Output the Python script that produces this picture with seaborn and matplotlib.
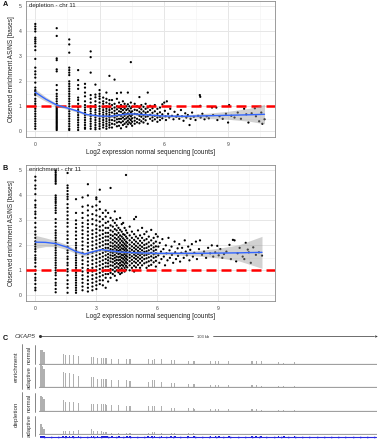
import numpy as np
import pandas as pd
import matplotlib
matplotlib.use("Agg")
import matplotlib.pyplot as plt
import seaborn as sns

sns.set_style("white")
plt.rcParams['font.family'] = ['Liberation Sans', 'DejaVu Sans']

# ---------------- Panel A (depletion) data ----------------
A_col_x = [0, 1, 1.585, 2, 2.32, 2.585, 2.807, 3, 3.17, 3.32, 3.46]
A_col_y = [
    [4.3, 4.2, 4.1, 4.0, 3.75, 3.68, 3.6, 3.52, 3.4, 3.25, 2.9, 2.55, 2.4, 2.28, 2.15, 1.95, 1.75, 1.65, 1.6,
     1.5, 1.45, 1.3, 1.2, 1.1, 1.0, 0.9, 0.8, 0.7, 0.6, 0.5, 0.4, 0.3, 0.2, 0.1],
    [4.13, 3.82, 2.92, 2.85, 2.48, 2.4, 1.85, 1.65, 1.5, 1.4, 1.3, 1.2, 1.1, 1.0, 0.95, 0.9, 0.85, 0.8, 0.75,
     0.7, 0.65, 0.6, 0.55, 0.5, 0.45, 0.4, 0.35, 0.3, 0.25, 0.2, 0.15, 0.1, 0.05],
    [3.68, 3.48, 3.15, 2.55, 2.45, 2.35, 2.25, 2.0, 1.9, 1.8, 1.7, 1.6, 1.5, 1.4, 1.3, 1.2, 1.1, 1.0, 0.9, 0.8,
     0.7, 0.6, 0.5, 0.4, 0.3, 0.2, 0.1, 0.05],
    [2.45, 2.05, 1.85, 1.7, 1.35, 1.25, 1.1, 0.95, 0.85, 0.75, 0.65, 0.55, 0.45, 0.35, 0.25, 0.15, 0.05],
    [1.9, 1.75, 1.55, 1.4, 1.2, 1.05, 0.95, 0.85, 0.75, 0.65, 0.55, 0.45, 0.35, 0.25, 0.15, 0.1],
    [3.2, 2.97, 2.35, 1.45, 1.3, 1.15, 1.0, 0.9, 0.8, 0.7, 0.6, 0.5, 0.4, 0.3, 0.2, 0.1],
    [1.87, 1.47, 1.36, 1.2, 1.05, 0.95, 0.85, 0.75, 0.65, 0.55, 0.45, 0.35, 0.25, 0.15, 0.08],
    [1.65, 1.5, 1.4, 1.3, 1.15, 1.0, 0.9, 0.8, 0.7, 0.6, 0.5, 0.4, 0.3, 0.2, 0.1],
    [1.35, 1.2, 1.1, 0.95, 0.85, 0.75, 0.65, 0.55, 0.45, 0.35, 0.25, 0.15],
    [1.55, 1.3, 1.15, 1.0, 0.9, 0.8, 0.7, 0.6, 0.5, 0.4, 0.3, 0.2, 0.1],
    [2.22, 1.25, 1.1, 0.95, 0.85, 0.75, 0.65, 0.55, 0.45, 0.35, 0.25, 0.15],
]
A_cloud_x = [3.58, 3.58, 3.58, 3.58, 3.58, 3.58, 3.58, 3.58,
             3.7, 3.7, 3.7, 3.7, 3.7, 3.7, 3.7, 3.7,
             3.81, 3.81, 3.81, 3.81, 3.81, 3.81, 3.81, 3.81, 3.81,
             3.91, 3.91, 3.91, 3.91, 3.91, 3.91, 3.91,
             4.0, 4.0, 4.0, 4.0, 4.0, 4.0, 4.0, 4.0,
             4.09, 4.09, 4.09, 4.09, 4.09, 4.09, 4.09,
             4.17, 4.17, 4.17, 4.17, 4.17, 4.17,
             4.25, 4.25, 4.25, 4.25, 4.25, 4.25,
             4.32, 4.32, 4.32, 4.32, 4.32, 4.32, 4.32,
             4.39, 4.39, 4.39, 4.39, 4.39,
             4.46, 4.46, 4.46, 4.46, 4.46, 4.46, 4.46,
             4.52, 4.52, 4.52, 4.52, 4.52, 4.52,
             4.64, 4.64, 4.64, 4.64, 4.64, 4.64,
             4.75, 4.75, 4.75, 4.75, 4.75,
             4.86, 4.86, 4.86, 4.86, 4.86, 4.86,
             4.95, 4.95, 4.95, 4.95, 4.95,
             5.05, 5.05, 5.05, 5.05, 5.05,
             5.15, 5.15, 5.15, 5.15, 5.15,
             5.25, 5.25, 5.25, 5.25, 5.25,
             5.36, 5.36, 5.36, 5.36,
             5.47, 5.47, 5.47, 5.47,
             5.58, 5.58, 5.58, 5.58,
             5.7, 5.7, 5.7, 5.7,
             5.82, 5.82, 5.82, 5.82,
             5.93, 5.93, 5.93,
             6.02, 6.05, 6.08, 6.1, 6.14, 6.2, 6.25, 6.3, 6.38, 6.45, 6.5, 6.58, 6.65, 6.72, 6.8,
             6.85, 6.92, 7.0, 7.05, 7.12, 7.2, 7.25, 7.32, 7.4, 7.48,
             7.6, 7.68, 7.7, 7.7, 7.72, 7.8, 7.9, 8.0, 8.1, 8.25, 8.3, 8.45, 8.5, 8.6, 8.75, 8.9,
             9.0, 9.05, 9.15, 9.3, 9.45, 9.6, 9.75, 9.85, 9.95, 10.1, 10.25, 10.3, 10.45, 10.55,
             10.6, 10.7]
A_cloud_y = [1.25, 1.05, 0.9, 0.75, 0.6, 0.45, 0.3, 0.15,
             1.1, 0.95, 0.82, 0.7, 0.55, 0.42, 0.28, 2.07,
             1.3, 1.0, 0.88, 0.72, 0.6, 0.48, 0.35, 0.2, 1.53,
             1.15, 0.95, 0.8, 0.65, 0.5, 0.38, 0.22,
             1.55, 1.05, 0.9, 0.78, 0.62, 0.5, 0.35, 0.12,
             1.2, 0.98, 0.85, 0.7, 0.55, 0.4, 0.25,
             1.1, 0.92, 0.75, 0.62, 0.48, 0.3,
             1.0, 0.85, 0.68, 0.52, 0.36, 0.18,
             1.55, 1.08, 0.9, 0.72, 0.58, 0.42, 0.28,
             1.0, 0.82, 0.65, 0.5, 0.35,
             2.77, 1.15, 0.92, 0.76, 0.6, 0.45, 0.3,
             0.98, 0.8, 0.66, 0.52, 0.38, 0.22,
             1.1, 0.86, 0.7, 0.55, 0.42, 0.3,
             1.0, 0.84, 0.68, 0.5, 0.36,
             1.37, 0.94, 0.78, 0.62, 0.46, 0.32,
             1.05, 0.88, 0.72, 0.58, 0.4,
             0.98, 0.8, 0.64, 0.5, 0.35,
             1.1, 0.9, 0.74, 0.58, 0.44,
             1.55, 0.95, 0.78, 0.6, 0.3,
             1.02, 0.85, 0.66, 0.5,
             0.92, 0.74, 0.56, 0.42,
             1.05, 0.8, 0.62, 0.48,
             0.9, 0.7, 0.55, 0.38,
             0.95, 0.76, 0.58, 0.45,
             1.08, 0.68, 0.52,
             1.15, 0.82, 0.6, 0.45, 1.2, 0.7, 0.55, 0.9, 0.62, 0.48, 0.78, 0.58, 0.66, 0.5, 0.85,
             0.6, 0.42, 0.72, 0.55, 0.65, 0.25, 0.5, 0.75, 0.58, 0.45,
             0.62, 1.45, 1.38, 1.02, 0.55, 0.7, 0.48, 0.6, 0.52, 0.95, 0.65, 0.95, 0.45, 0.6, 0.5, 0.7,
             0.35, 1.05, 0.62, 0.55, 0.75, 0.5, 0.9, 0.68, 0.35, 0.72, 0.92, 0.6, 0.4, 0.75,
             0.3, 0.48]
A_fit_x = [0, 0.5, 1, 1.585, 2, 2.4, 3, 3.5, 4.0, 4.4, 5.0, 5.5, 6.0, 7.0, 8.0, 9.0, 10.0, 10.7]
A_fit_y = [1.56, 1.28, 1.05, 0.91, 0.80, 0.67, 0.61, 0.60, 0.66, 0.70, 0.67, 0.64, 0.61, 0.60, 0.62, 0.64, 0.66, 0.68]
A_fit_lo = [1.43, 1.19, 0.99, 0.86, 0.75, 0.62, 0.57, 0.56, 0.62, 0.66, 0.63, 0.60, 0.56, 0.54, 0.52, 0.48, 0.40, 0.30]
A_fit_hi = [1.69, 1.37, 1.11, 0.96, 0.85, 0.72, 0.65, 0.64, 0.70, 0.74, 0.71, 0.68, 0.66, 0.66, 0.72, 0.80, 0.92, 1.08]

# ---------------- Panel B (enrichment) data ----------------
B_col_x = [0, 1, 1.585, 2, 2.32, 2.585, 2.807, 3, 3.17, 3.32, 3.46]
B_col_y = [
    [4.75, 4.6, 4.4, 4.27, 4.05, 3.8, 3.62, 3.52, 3.35, 3.25, 3.1, 2.9, 2.72, 2.56, 2.43, 2.3, 2.16, 2.05,
     1.95, 1.85, 1.75, 1.6, 1.5, 1.42, 1.3, 1.15, 1.0, 0.85, 0.7, 0.6, 0.45, 0.3, 0.2],
    [5.0, 4.93, 4.85, 4.78, 4.7, 4.62, 4.55, 4.47, 4.0, 3.92, 3.85, 3.77, 3.7, 3.6, 3.5, 3.4, 3.3, 3.05,
     2.9, 2.75, 2.6, 2.5, 2.4, 2.3, 2.2, 2.1, 2.0, 1.9, 1.8, 1.7, 1.6, 1.5, 1.4, 1.3, 1.2, 1.1, 1.0, 0.9,
     0.8, 0.65, 0.5, 0.4, 0.25, 0.12],
    [4.9, 4.4, 4.3, 4.18, 4.05, 3.95, 3.85, 3.65, 3.5, 3.35, 3.2, 3.05, 2.9, 2.75, 2.55, 2.4, 2.25, 2.1,
     1.95, 1.8, 1.7, 1.55, 1.45, 1.3, 1.2, 1.05, 0.95, 0.8, 0.6, 0.45, 0.3, 0.1],
    [3.85, 3.3, 3.0, 2.85, 2.7, 2.55, 2.4, 2.25, 2.1, 2.0, 1.9, 1.8, 1.7, 1.6, 1.5, 1.4, 1.3, 1.2, 1.1,
     1.0, 0.9, 0.8, 0.7, 0.6, 0.5, 0.4, 0.3, 0.2, 0.1],
    [3.92, 3.55, 3.3, 3.1, 2.9, 2.75, 2.6, 2.45, 2.3, 2.15, 2.0, 1.85, 1.7, 1.55, 1.4, 1.25, 1.1, 0.95,
     0.8, 0.65, 0.5, 0.35, 0.2],
    [4.45, 4.0, 3.6, 3.4, 3.2, 3.0, 2.85, 2.7, 2.55, 2.4, 2.25, 2.1, 1.95, 1.8, 1.65, 1.5, 1.35, 1.2,
     1.05, 0.9, 0.75, 0.6, 0.45, 0.3, 0.15],
    [3.55, 3.25, 3.05, 2.85, 2.6, 2.45, 2.3, 2.15, 2.0, 1.85, 1.7, 1.55, 1.4, 1.25, 1.1, 0.95, 0.8, 0.65,
     0.5, 0.35, 0.2],
    [3.92, 3.85, 3.6, 3.4, 3.2, 3.0, 2.8, 2.65, 2.5, 2.35, 2.2, 2.05, 1.9, 1.75, 1.6, 1.45, 1.3, 1.15,
     1.0, 0.85, 0.7, 0.55, 0.4, 0.25],
    [4.23, 3.75, 3.45, 3.15, 2.95, 2.75, 2.6, 2.4, 2.25, 2.1, 1.95, 1.8, 1.65, 1.5, 1.35, 1.2, 1.05, 0.9,
     0.75, 0.6, 0.45],
    [3.3, 3.05, 2.8, 2.6, 2.45, 2.3, 2.15, 2.0, 1.85, 1.7, 1.55, 1.4, 1.25, 1.1, 0.95, 0.8, 0.6, 0.4],
    [3.4, 3.15, 2.9, 2.7, 2.5, 2.35, 2.2, 2.05, 1.9, 1.75, 1.6, 1.45, 1.3, 1.15, 1.0, 0.85, 0.7, 0.3],
]
B_grid_x = [3.58, 3.7, 3.81, 3.91, 4.0, 4.09, 4.17, 4.25, 4.32, 4.39, 4.46, 4.52, 4.64, 4.75, 4.86,
            4.95, 5.05, 5.15, 5.25, 5.36, 5.47, 5.58, 5.7, 5.82, 5.93]
B_grid_y = [
    [3.3, 2.95, 2.7, 2.5, 2.35, 2.2, 2.05, 1.9, 1.78, 1.65, 1.52, 1.4, 1.28, 1.15, 1.0, 0.85, 0.55],
    [4.3, 3.1, 2.8, 2.6, 2.42, 2.28, 2.12, 1.98, 1.85, 1.72, 1.6, 1.48, 1.35, 1.2, 1.05, 0.9, 0.7],
    [3.0, 2.75, 2.55, 2.38, 2.22, 2.08, 1.95, 1.82, 1.7, 1.58, 1.45, 1.32, 1.18, 1.02, 0.85],
    [3.36, 2.9, 2.65, 2.45, 2.3, 2.15, 2.0, 1.88, 1.75, 1.62, 1.5, 1.38, 1.25, 1.1, 0.95, 0.78],
    [3.05, 2.8, 2.6, 2.42, 2.25, 2.1, 1.95, 1.82, 1.7, 1.55, 1.42, 1.3, 1.15, 1.0, 0.6],
    [2.7, 2.5, 2.33, 2.18, 2.02, 1.9, 1.78, 1.65, 1.52, 1.4, 1.25, 1.1, 0.92],
    [3.1, 2.62, 2.4, 2.25, 2.1, 1.95, 1.82, 1.68, 1.55, 1.42, 1.3, 1.18, 1.02, 0.85],
    [2.85, 2.55, 2.35, 2.18, 2.02, 1.88, 1.75, 1.62, 1.5, 1.36, 1.22, 1.08, 0.9],
    [2.9, 2.45, 2.28, 2.12, 1.98, 1.85, 1.72, 1.6, 1.46, 1.32, 1.18, 1.0],
    [2.7, 2.42, 2.22, 2.06, 1.92, 1.8, 1.66, 1.53, 1.4, 1.26, 1.1, 0.95],
    [4.82, 2.6, 2.35, 2.15, 2.0, 1.86, 1.73, 1.6, 1.47, 1.33, 1.18, 1.02],
    [2.5, 2.28, 2.1, 1.95, 1.8, 1.68, 1.55, 1.42, 1.28, 1.12],
    [2.75, 2.4, 2.2, 2.03, 1.88, 1.75, 1.62, 1.5, 1.36, 1.2, 1.0],
    [2.55, 2.3, 2.12, 1.96, 1.82, 1.7, 1.56, 1.42, 1.28, 1.1],
    [3.05, 2.45, 2.22, 2.05, 1.9, 1.76, 1.63, 1.5, 1.35, 1.18, 0.95],
    [3.14, 2.35, 2.15, 1.98, 1.84, 1.7, 1.58, 1.45, 1.3, 1.12],
    [2.6, 2.28, 2.08, 1.92, 1.78, 1.65, 1.52, 1.38, 1.22],
    [2.4, 2.18, 2.0, 1.86, 1.72, 1.6, 1.46, 1.3, 1.1],
    [2.7, 2.3, 2.1, 1.94, 1.8, 1.66, 1.52, 1.38, 1.2],
    [2.45, 2.2, 2.02, 1.88, 1.74, 1.6, 1.45, 1.28],
    [2.55, 2.25, 2.06, 1.9, 1.76, 1.62, 1.48, 1.32, 1.1],
    [2.35, 2.12, 1.95, 1.8, 1.66, 1.52, 1.36, 1.18],
    [2.62, 2.2, 2.0, 1.85, 1.7, 1.56, 1.4, 1.22],
    [2.3, 2.08, 1.92, 1.78, 1.64, 1.5, 1.32],
    [2.45, 2.15, 1.96, 1.82, 1.68, 1.54, 1.38, 1.15],
]
B_cloud_x = [6.02, 6.05, 6.05, 6.1, 6.12, 6.18, 6.2, 6.25, 6.3, 6.32, 6.38, 6.42, 6.45, 6.5, 6.55,
             6.6, 6.62, 6.7, 6.72, 6.78, 6.85, 6.88, 6.92, 7.0, 7.02, 7.08, 7.12, 7.18, 7.22, 7.3,
             7.35, 7.4, 7.45, 7.52, 7.58, 7.62, 7.7, 7.75, 7.82, 7.9, 7.95, 8.05, 8.1, 8.2, 8.3,
             8.4, 8.5, 8.6, 8.68, 8.75, 8.85, 8.95, 9.02, 9.1, 9.2, 9.28, 9.4, 9.55, 9.62, 9.72,
             9.8, 9.88, 9.95, 10.05, 10.2, 10.28, 10.35, 10.45, 10.5, 10.6, 10.72, 10.85, 11.0, 11.15]
B_cloud_y = [2.35, 1.95, 1.6, 1.3, 2.1, 1.75, 1.45, 2.25, 1.85, 1.55, 1.2, 2.0, 1.68, 1.4, 2.3,
             1.8, 1.5, 1.95, 1.62, 1.3, 2.15, 1.72, 1.45, 1.88, 1.58, 2.05, 1.35, 1.7, 1.9, 1.5,
             2.2, 1.75, 1.6, 1.95, 1.4, 1.82, 2.05, 1.55, 1.7, 2.15, 1.45, 1.85, 2.2, 1.62, 1.75,
             1.5, 1.9, 1.68, 2.0, 1.55, 1.72, 1.98, 1.6, 1.85, 1.5, 1.65, 1.75, 2.02, 1.45, 2.22,
             2.2, 1.36, 1.68, 1.9, 1.55, 1.45, 2.1, 1.83, 1.72, 1.3, 1.92, 1.62, 1.72, 1.59]
B_fit_x = [0, 0.5, 1, 1.585, 2, 2.43, 2.8, 3.24, 3.7, 4.2, 5, 6, 7, 8, 9, 10, 11.15]
B_fit_y = [2.13, 2.12, 2.07, 1.92, 1.75, 1.65, 1.74, 1.83, 1.78, 1.73, 1.70, 1.68, 1.68, 1.68, 1.69, 1.70, 1.72]
B_fit_lo = [1.88, 1.95, 1.95, 1.82, 1.67, 1.57, 1.67, 1.77, 1.73, 1.69, 1.66, 1.63, 1.61, 1.57, 1.50, 1.38, 1.08]
B_fit_hi = [2.40, 2.30, 2.19, 2.02, 1.83, 1.73, 1.81, 1.89, 1.83, 1.77, 1.74, 1.73, 1.75, 1.79, 1.88, 2.02, 2.36]

x_ticks = [0, 3, 6, 9]
y_ticks = [0, 1, 2, 3, 4, 5]
x_label = "Log2 expression normal sequencing [counts]"
y_label = "Observed enrichment AS/NS [bases]"

# ---------------- Panel C (CKAP5 coverage tracks) ----------------
exon_kb = [0.3, 0.76, 1.22, 7.1, 7.9, 9.0, 10.2, 11.8, 15.8, 16.4, 17.6, 18.9, 19.4, 20.0, 20.5, 22.0,
           24.2, 26.6, 27.6, 33.2, 34.4, 35.1, 37.2, 40.2, 41.3, 45.4, 47.0, 47.4, 52.3, 53.8, 54.8,
           57.9, 65.0, 66.3, 67.8, 73.1, 74.7, 78.0]
cov_enr_normal = [0.97, 0.92, 0.85, 0.70, 0.62, 0.62, 0.60, 0.52, 0.45, 0.45, 0.38, 0.42, 0.42, 0.42,
                  0.38, 0.36, 0.36, 0.33, 0.33, 0.33, 0.26, 0.36, 0.34, 0.30, 0.30, 0.22, 0.22, 0.22,
                  0.22, 0.22, 0.20, 0.22, 0.18, 0.18, 0.18, 0.12, 0.08, 0.12]
cov_enr_adaptive = [1.50, 1.42, 1.25, 1.05, 0.95, 0.92, 0.90, 0.75, 0.70, 0.70, 0.58, 0.56, 0.56, 0.54,
                    0.52, 0.48, 0.50, 0.45, 0.42, 0.35, 0.45, 0.45, 0.35, 0.25, 0.25, 0.20, 0.20, 0.20,
                    0.16, 0.16, 0.14, 0.15, 0.12, 0.12, 0.10, 0.08, 0.06, 0.06]
cov_dep_normal = [1.00, 0.92, 0.80, 0.72, 0.62, 0.60, 0.60, 0.58, 0.50, 0.50, 0.45, 0.48, 0.48, 0.45,
                  0.42, 0.40, 0.40, 0.36, 0.34, 0.34, 0.36, 0.36, 0.32, 0.24, 0.24, 0.20, 0.18, 0.16,
                  0.16, 0.16, 0.14, 0.14, 0.12, 0.12, 0.10, 0.08, 0.06, 0.06]
cov_dep_adaptive = [0.65, 0.50, 0.35, 0.22, 0.22, 0.20, 0.18, 0.30, 0.33, 0.22, 0.20, 0.18, 0.16, 0.14,
                    0.12, 0.10, 0.10, 0.08, 0.08, 0.10, 0.14, 0.14, 0.08, 0.06, 0.06, 0.05, 0.05, 0.04,
                    0.04, 0.04, 0.03, 0.03, 0.03, 0.03, 0.03, 0.02, 0.02, 0.02]
track_groups = ["enrichment", "depletion"]
track_samples = ["normal", "adaptive"]
gene_name = "CKAP5"
gene_length_kb = 103

# ---------------- figure ----------------
W, H = 378, 440
fig = plt.figure(figsize=(W / 100, H / 100), dpi=100)


def px_axes(left, top, right, bottom):
    return fig.add_axes([left / W, 1 - bottom / H, (right - left) / W, (bottom - top) / H])


def scatter_panel(ax, col_x, col_y, extra_x, extra_y, fit_x, fit_y, fit_lo, fit_hi, title, xlim):
    xs, ys = [], []
    for cx, cy in zip(col_x, col_y):
        xs += [cx] * len(cy)
        ys += list(cy)
    xs += list(extra_x)
    ys += list(extra_y)
    df = pd.DataFrame({"x": xs, "y": ys})
    sns.scatterplot(data=df, x="x", y="y", s=2.6, marker="o", color="black", edgecolor="none",
                    linewidth=0, ax=ax, zorder=3)
    ax.axhline(1, color="#FF0000", lw=1.8, dashes=(4, 2), zorder=4)
    ax.fill_between(fit_x, fit_lo, fit_hi, color="#999999", alpha=0.45, lw=0, zorder=5)
    sns.lineplot(x=fit_x, y=fit_y, color="#3366FF", lw=1.0, ax=ax, zorder=6)
    ax.set_xticks(x_ticks)
    ax.set_yticks(y_ticks)
    ax.set_xticks([1.5, 4.5, 7.5, 10.5], minor=True)
    ax.set_yticks([0.5, 1.5, 2.5, 3.5, 4.5], minor=True)
    ax.set_xlim(*xlim)
    ax.set_ylim(-0.23, 5.22)
    ax.grid(True, which="major", color="#E6E6E6", lw=0.7)
    ax.grid(True, which="minor", color="#F2F2F2", lw=0.4)
    ax.set_axisbelow(True)
    for s in ax.spines.values():
        s.set_color("#8C8C8C")
        s.set_linewidth(0.6)
    ax.tick_params(axis="both", which="major", length=1.8, width=0.4, color="#555555",
                   labelsize=3.6, labelcolor="#444444", pad=1.5)
    ax.tick_params(which="minor", length=0)
    ax.set_xlabel(x_label, fontsize=4.7, color="#222222", labelpad=1.5)
    ax.set_ylabel(y_label, fontsize=4.7, color="#222222", labelpad=2.5)
    ax.text(0.012, 0.985, title, transform=ax.transAxes, ha="left", va="top", fontsize=4.4,
            color="#222222")


axA = px_axes(26, 1, 275, 137)
scatter_panel(axA, A_col_x, A_col_y, A_cloud_x, A_cloud_y, A_fit_x, A_fit_y, A_fit_lo, A_fit_hi,
              "depletion - chr 11", (-0.434, 11.19))

B_extra_x = [gx for gx, gy in zip(B_grid_x, B_grid_y) for _ in gy] + B_cloud_x
B_extra_y = [v for gy in B_grid_y for v in gy] + B_cloud_y
axB = px_axes(26, 165, 275, 301)
scatter_panel(axB, B_col_x, B_col_y, B_extra_x, B_extra_y, B_fit_x, B_fit_y, B_fit_lo, B_fit_hi,
              "enrichment - chr 11", (-0.46, 11.79))

# tracks
track_data = [cov_enr_normal, cov_enr_adaptive, cov_dep_normal, cov_dep_adaptive]
track_base = [364, 387, 411, 434]
widths = [0.5 if i < 3 else 0.34 for i in range(len(exon_kb))]
for base, cov in zip(track_base, track_data):
    axt = px_axes(39, base - 23, 377, base + 1)
    axt.bar(exon_kb, cov, width=widths, color="#B0B0B0", linewidth=0, align="center")
    axt.axhline(0, color="#A0A0A0", lw=0.9)
    axt.set_xlim(-0.3, gene_length_kb + 0.3)
    axt.set_ylim(-0.06, 1.56)
    axt.axis("off")

# gene model
axg = px_axes(39, 435, 377, 440)
axg.set_xlim(-0.3, gene_length_kb + 0.3)
axg.set_ylim(-1, 1)
axg.axis("off")
axg.plot([0, gene_length_kb], [0.1, 0.1], color="#2B2BE0", lw=0.8)
arrow_pos = np.arange(1.5, gene_length_kb, 2.2)
axg.plot(arrow_pos, np.full(len(arrow_pos), 0.1), ls="none", marker=">", ms=1.6, color="#2B2BE0",
         markeredgewidth=0)
axg.bar(exon_kb, 0.9, bottom=-0.35, width=0.5, color="#2020D0", linewidth=0)

# annotation layer in pixel coordinates
ann = fig.add_axes([0, 0, 1, 1])
ann.set_xlim(0, W)
ann.set_ylim(H, 0)
ann.axis("off")
ann.patch.set_alpha(0)
for lbl, yy in zip(["A", "B", "C"], [5, 169, 338]):
    ann.text(2.5, yy, lbl, fontsize=5.2, fontweight="bold", ha="left", va="center", color="#111111")
ann.text(15, 336.5, gene_name, fontsize=4.6, style="italic", ha="left", va="center", color="#333333")
ann.plot([40, 193], [336.5, 336.5], color="#333333", lw=0.5)
ann.plot([213, 374], [336.5, 336.5], color="#333333", lw=0.5)
ann.plot([40], [336.5], marker="o", ms=1.2, color="#333333")
ann.plot([375.5], [336.5], marker=">", ms=1.8, color="#333333", markeredgewidth=0)
ann.text(203, 336.6, f"{gene_length_kb} kb", fontsize=3.0, ha="center", va="center", color="#333333")

group_spans = [(344, 389), (392, 437)]
sample_spans = [[(345, 364), (367, 388)], [(393, 412), (416, 436)]]
for g, (gt, gb), subs in zip(track_groups, group_spans, sample_spans):
    ann.plot([21.7, 21.7], [gt, gb], color="#555555", lw=0.5)
    ann.text(16.2, (gt + gb) / 2, g, rotation=90, fontsize=4.5, ha="center", va="center",
             color="#333333")
    for sname, (st, sb) in zip(track_samples, subs):
        ann.plot([34.5, 34.5], [st, sb], color="#555555", lw=0.5)
        ann.text(29.5, (st + sb) / 2, sname, rotation=90, fontsize=4.3, ha="center", va="center",
                 color="#333333")

fig.savefig("out.png", dpi=100)
